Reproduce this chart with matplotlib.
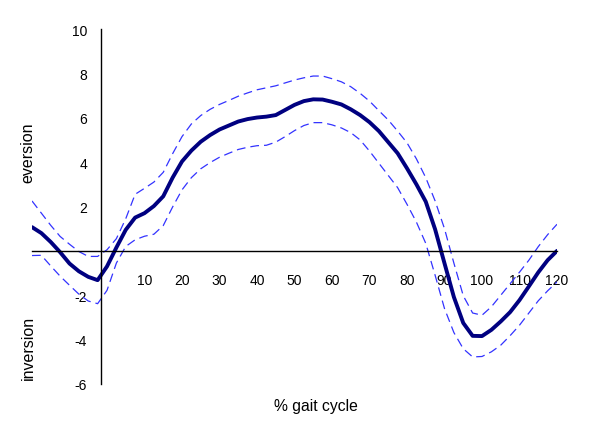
import matplotlib
matplotlib.use('Agg')
import matplotlib.pyplot as plt

plt.rcParams['font.family'] = ['Liberation Sans', 'DejaVu Sans']
plt.rcParams['axes.unicode_minus'] = False

# % gait cycle, sampled every 2.5 %
gait = [-20 + 2.5 * i for i in range(57)]

mean = [1.07, 0.80, 0.40, -0.06, -0.57, -0.92, -1.17, -1.32, -0.70, 0.15,
        0.95, 1.50, 1.70, 2.02, 2.46, 3.30, 4.03, 4.52, 4.92, 5.22,
        5.47, 5.65, 5.83, 5.94, 6.01, 6.05, 6.12, 6.35, 6.58, 6.75,
        6.83, 6.82, 6.72, 6.60, 6.38, 6.12, 5.80, 5.40, 4.90, 4.40,
        3.72, 3.00, 2.22, 0.97, -0.56, -2.08, -3.25, -3.83, -3.84, -3.56,
        -3.18, -2.76, -2.22, -1.60, -0.97, -0.42, 0.0]

upper = [2.25, 1.70, 1.15, 0.65, 0.30, -0.03, -0.25, -0.25, 0.05, 0.55,
         1.45, 2.55, 2.82, 3.10, 3.54, 4.38, 5.15, 5.72, 6.10, 6.38,
         6.60, 6.78, 6.97, 7.12, 7.26, 7.35, 7.44, 7.57, 7.70, 7.80,
         7.88, 7.88, 7.76, 7.62, 7.40, 7.10, 6.75, 6.32, 5.90, 5.40,
         4.87, 4.15, 3.30, 2.25, 1.00, -0.55, -2.02, -2.80, -2.90, -2.52,
         -2.00, -1.48, -0.96, -0.42, 0.19, 0.73, 1.20]

lower = [-0.21, -0.20, -0.68, -1.14, -1.55, -1.95, -2.26, -2.38, -1.78, -0.55,
         0.20, 0.50, 0.66, 0.75, 1.14, 1.98, 2.75, 3.30, 3.70, 3.98,
         4.22, 4.40, 4.57, 4.67, 4.74, 4.76, 4.90, 5.15, 5.42, 5.65,
         5.78, 5.78, 5.68, 5.54, 5.33, 5.00, 4.50, 3.95, 3.40, 2.85,
         2.10, 1.30, 0.34, -1.10, -2.60, -3.68, -4.41, -4.78, -4.76, -4.55,
         -4.25, -3.82, -3.35, -2.80, -2.25, -1.80, -1.40]

xticks = [10, 20, 30, 40, 50, 60, 70, 80, 90, 100, 110, 120]
yticks = [-6, -4, -2, 2, 4, 6, 8, 10]

fig = plt.figure(figsize=(6, 4.27), dpi=100)
ax = fig.add_axes([32/600, 42/427, 525/600, 355/427])

ax.plot(gait, upper, color='#3333ff', lw=0.9, dashes=(7, 4))
ax.plot(gait, lower, color='#3333ff', lw=0.9, dashes=(7, 4))
ax.plot(gait, mean, color='#000080', lw=2.8, solid_capstyle='round', solid_joinstyle='round')

ax.set_xlim(-20, 120)
ax.set_ylim(-6, 10)

# axes cross like in the excel original (y axis sits just left of 0)
ax.spines['left'].set_position(('data', -1.6))
ax.spines['bottom'].set_position(('data', 0))
ax.spines['top'].set_visible(False)
ax.spines['right'].set_visible(False)
for s in ['left', 'bottom']:
    ax.spines[s].set_linewidth(1.0)
    ax.spines[s].set_color('black')

ax.set_xticks(xticks)
ax.set_yticks(yticks)
ax.tick_params(axis='x', length=0, pad=16, labelsize=10)
ax.tick_params(axis='y', length=0, pad=10, labelsize=10)

ax.text(-21.0, 4.46, 'eversion', rotation=90, ha='center', va='center', fontsize=11.5)
ax.text(-21.0, -4.32, 'inversion', rotation=90, ha='center', va='center', fontsize=11.5)
fig.text(316/600, 1 - 407/427, '% gait cycle', ha='center', va='center', fontsize=11.3)

fig.savefig('out.png', dpi=100, facecolor='white')
